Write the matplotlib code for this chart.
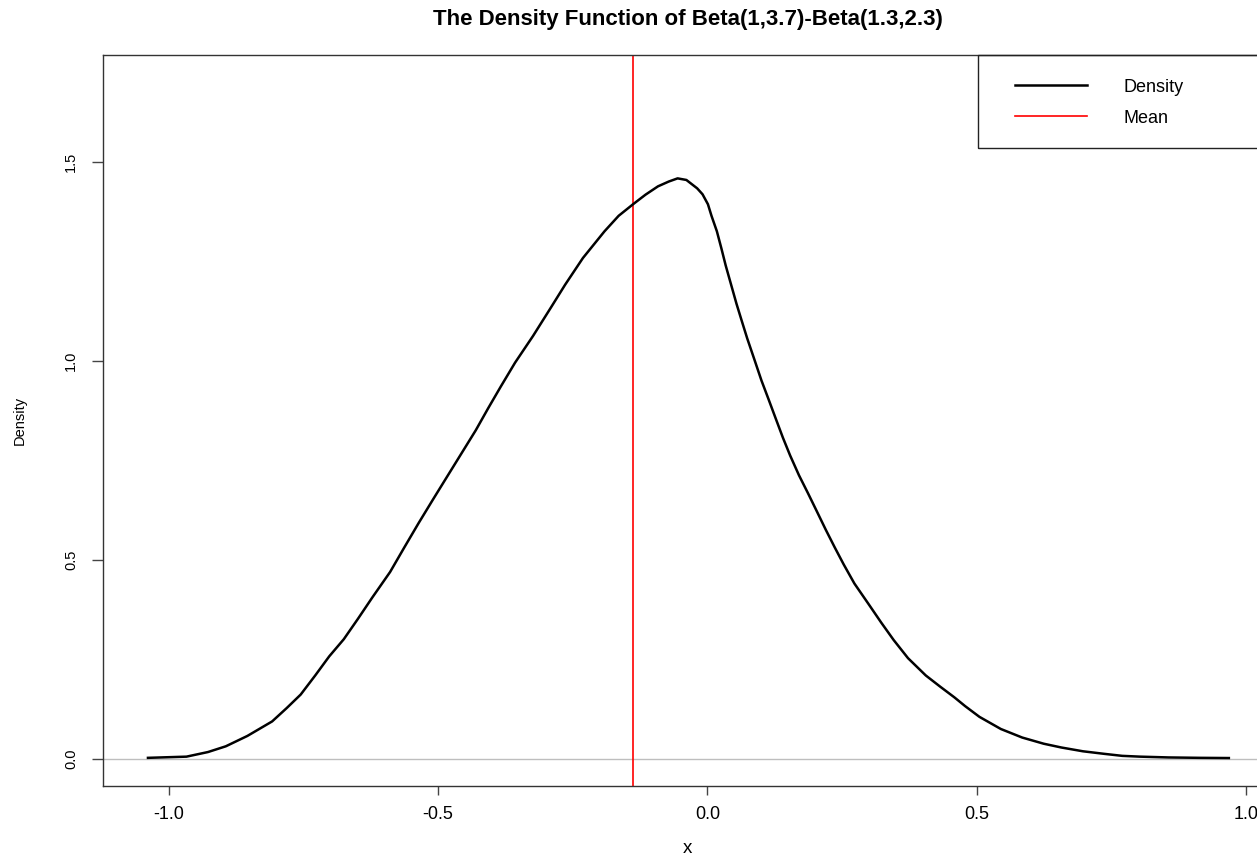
import numpy as np
import matplotlib.pyplot as plt
from matplotlib.patches import Rectangle

plt.rcParams['font.family'] = ['Liberation Sans', 'DejaVu Sans']

# density curve
dens_x = [-1.0385, -0.967, -0.927, -0.894, -0.854, -0.808, -0.781, -0.755,
          -0.728, -0.702, -0.675, -0.6486, -0.622, -0.589, -0.5625, -0.536,
          -0.509, -0.483, -0.4565, -0.430, -0.4067, -0.3835, -0.357, -0.3237,
          -0.2907, -0.264, -0.231, -0.191, -0.1647, -0.138, -0.1149, -0.0917,
          -0.0718, -0.0553, -0.039, -0.019, -0.009, 0.001, 0.0076, 0.0176,
          0.026, 0.034, 0.044, 0.054, 0.064, 0.0739, 0.0872, 0.1004,
          0.1138, 0.127, 0.1403, 0.1535, 0.170, 0.1867, 0.2033, 0.2198,
          0.2363, 0.253, 0.2729, 0.2994, 0.3226, 0.3458, 0.3724, 0.4054,
          0.432, 0.4585, 0.4784, 0.505, 0.5447, 0.5844, 0.6243, 0.657,
          0.697, 0.737, 0.770, 0.803, 0.856, 0.9146, 0.968]
dens_y = [0.002, 0.005, 0.0166, 0.031, 0.057, 0.0935, 0.127, 0.161,
          0.209, 0.257, 0.300, 0.3515, 0.405, 0.469, 0.531, 0.592,
          0.652, 0.709, 0.767, 0.825, 0.881, 0.935, 0.995, 1.062,
          1.133, 1.191, 1.258, 1.325, 1.364, 1.393, 1.417, 1.438,
          1.450, 1.458, 1.454, 1.433, 1.418, 1.393, 1.364, 1.325,
          1.282, 1.239, 1.191, 1.143, 1.099, 1.056, 1.003, 0.950,
          0.902, 0.854, 0.806, 0.762, 0.712, 0.667, 0.621, 0.575,
          0.531, 0.488, 0.440, 0.388, 0.342, 0.298, 0.2525, 0.209,
          0.181, 0.154, 0.132, 0.105, 0.0745, 0.053, 0.0375, 0.028,
          0.0185, 0.012, 0.007, 0.005, 0.003, 0.002, 0.0015]
mean_x = -0.139

x_ticks = [-1.0, -0.5, 0.0, 0.5, 1.0]
y_ticks = [0.0, 0.5, 1.0, 1.5]

W, H = 1257, 859
fig = plt.figure(figsize=(W / 100, H / 100), dpi=100)
# plot box runs a little past the right edge of the image, like the original
ax = fig.add_axes([103.3 / W, 73.3 / H, (1272 - 103.3) / W, (785.7 - 55) / H])

ax.axhline(0, color='#bebebe', lw=1.0, zorder=1)
ax.plot(dens_x, dens_y, color='black', lw=1.8, label='Density', zorder=3,
        solid_joinstyle='round')
ax.axvline(mean_x, color='red', lw=1.2, label='Mean', zorder=2)

ax.set_xlim(-1.1214, 1.0481)
ax.set_ylim(-0.068, 1.768)

ax.set_xticks(x_ticks)
ax.set_xticklabels([f"{v:.1f}" for v in x_ticks], fontsize=13)
ax.set_yticks(y_ticks)
ax.set_yticklabels([f"{v:.1f}" for v in y_ticks], fontsize=10.5,
                   rotation=90, va='center')
ax.tick_params(axis='x', length=6.5, width=1, color='#444444', pad=8)
ax.tick_params(axis='y', length=8, width=1, color='#444444', pad=10)

for s in ax.spines.values():
    s.set_color('#333333')
    s.set_linewidth(1.0)

ax.set_xlabel('x', fontsize=13.5)
ax.xaxis.set_label_coords(0.5, -0.0853)
ax.xaxis.label.set_va('center')
ax.set_ylabel('Density', fontsize=10.5)
ax.yaxis.set_label_coords(-0.0713, 0.5005)
ax.yaxis.label.set_va('center')

fig.text(687.6 / W, 1 - 19.5 / H,
         'The Density Function of Beta(1,3.7)-Beta(1.3,2.3)',
         ha='center', va='center', fontsize=16, fontweight='bold')

# legend box as in R: frame from the top right corner
x0 = (978.3 - 103.3) / (1272 - 103.3)
y0 = (785.7 - 148.3) / (785.7 - 55)
ax.add_patch(Rectangle((x0, y0), 1.2, 1 - y0, transform=ax.transAxes,
                       fill=False, edgecolor='#222222', lw=1.0,
                       clip_on=False, zorder=5))
ax.legend(loc='upper left',
          bbox_to_anchor=((1015 - 103.3) / (1272 - 103.3),
                          (785.7 - 78.7) / (785.7 - 55)),
          frameon=False, fontsize=13, handlelength=4.0, handletextpad=2.0,
          borderpad=0, borderaxespad=0, labelspacing=0.77)

fig.savefig('out.png', dpi=100)
